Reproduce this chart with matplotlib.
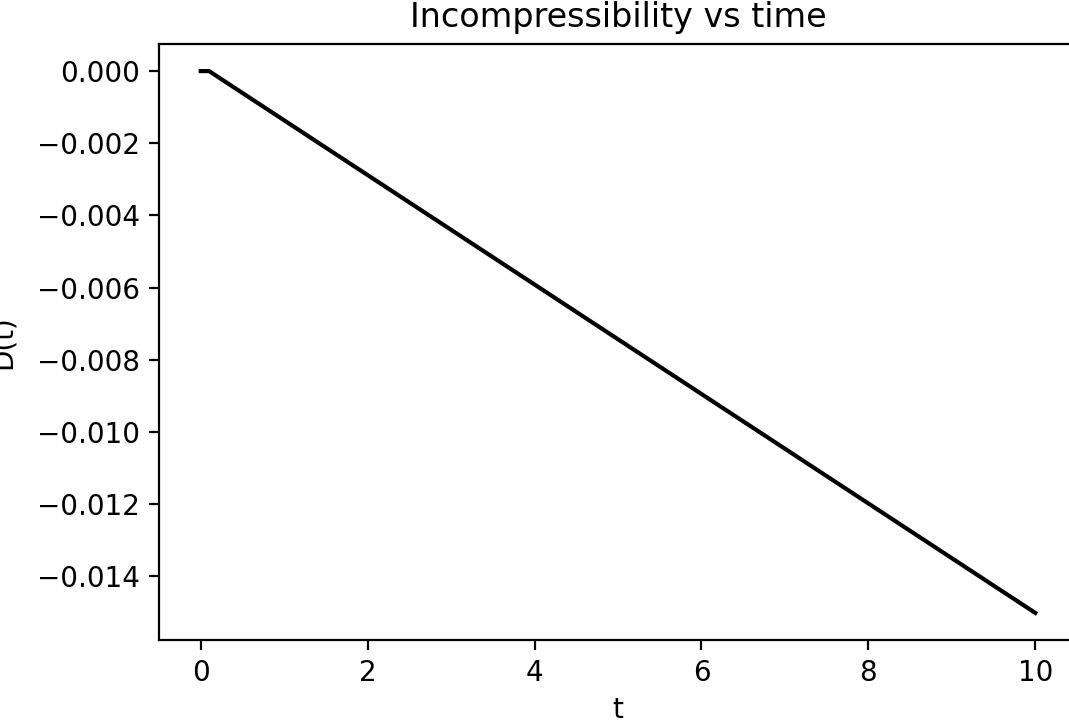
import numpy as np
import matplotlib
matplotlib.use("Agg")
import matplotlib.pyplot as plt

# incompressibility D(t) sampled over time
t = np.array([0.0, 0.1, 10.0])
D = np.array([0.0, 0.0, -0.01502])

dpi = 200
W, H = 1069, 723
fig = plt.figure(figsize=(W / dpi, H / dpi), dpi=dpi)
# the original was cropped: right spine sits just past the image edge
ax = fig.add_axes([159 / W, (H - 640) / H, (1077 - 159) / W, (640 - 44) / H])

ax.plot(t, D, color="black")
ax.set_title("Incompressibility vs time")
ax.set_xlabel("t", labelpad=3)
ax.set_ylabel("D(t)", labelpad=7.3)

fig.savefig("out.png", dpi=dpi)
